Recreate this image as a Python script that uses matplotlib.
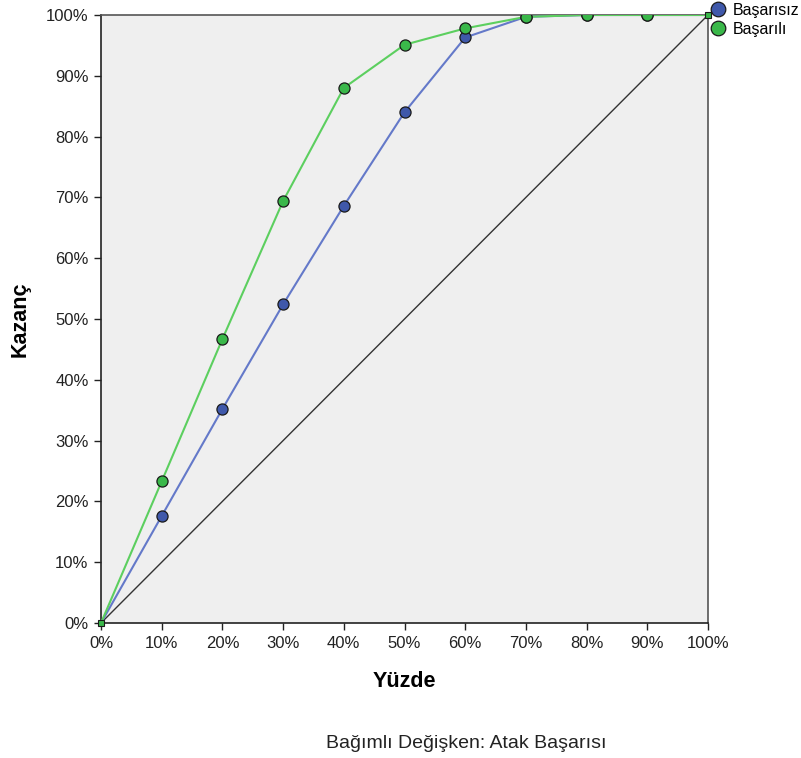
import matplotlib.pyplot as plt
from matplotlib.lines import Line2D
from matplotlib.ticker import PercentFormatter

plt.rcParams['font.family'] = ['Liberation Sans', 'DejaVu Sans']

# Gain chart data (percent of sample vs percent gain)
yuzde = [0, 10, 20, 30, 40, 50, 60, 70, 80, 90, 100]
basarisiz = [0, 17.6, 35.2, 52.4, 68.6, 84.0, 96.3, 99.7, 100, 100, 100]
basarili = [0, 23.3, 46.7, 69.4, 88.0, 95.1, 97.8, 99.7, 100, 100, 100]

blue_line = "#6479c9"
blue_fill = "#3f58aa"
green_line = "#5ccf5f"
green_fill = "#3ab84a"

fig = plt.figure(figsize=(8.01, 7.58), dpi=100)
ax = fig.add_axes([101 / 801, 135 / 758, 607 / 801, 608 / 758])
ax.set_facecolor("#efefef")

# reference diagonal
ax.plot([0, 100], [0, 100], color="#333333", lw=1.0, zorder=2)

ax.plot(yuzde, basarisiz, color=blue_line, lw=1.5, zorder=3)
ax.plot(yuzde, basarili, color=green_line, lw=1.5, zorder=3)

# circles at interior points, small squares at the ends
ax.plot(yuzde[1:-1], basarisiz[1:-1], ls="none", marker="o", ms=8,
        mfc=blue_fill, mec="#1a1a1a", mew=0.9, zorder=4)
ax.plot(yuzde[1:-1], basarili[1:-1], ls="none", marker="o", ms=8,
        mfc=green_fill, mec="#1a1a1a", mew=0.9, zorder=4)
ends = [0, -1]
ax.plot([yuzde[i] for i in ends], [basarili[i] for i in ends], ls="none",
        marker="s", ms=5, mfc=green_fill, mec="#1a1a1a", mew=0.8,
        zorder=5, clip_on=False)

ax.set_xlim(0, 100)
ax.set_ylim(0, 100)
ax.set_xticks(range(0, 101, 10))
ax.set_yticks(range(0, 101, 10))
ax.xaxis.set_major_formatter(PercentFormatter(decimals=0))
ax.yaxis.set_major_formatter(PercentFormatter(decimals=0))
ax.tick_params(direction="out", length=5, width=1, labelsize=12,
               colors="#222222", pad=4)

for side in ["left", "bottom"]:
    ax.spines[side].set_color("#222222")
    ax.spines[side].set_linewidth(1.2)
for side in ["top", "right"]:
    ax.spines[side].set_color("#555555")
    ax.spines[side].set_linewidth(1.2)

ax.set_xlabel("Yüzde", fontsize=15.5, fontweight="bold", labelpad=15)
ax.set_ylabel("Kazanç", fontsize=15.5, fontweight="bold", labelpad=11)

handles = [
    Line2D([], [], ls="none", marker="o", ms=10.5, mfc=blue_fill, mec="#1a1a1a", mew=0.9),
    Line2D([], [], ls="none", marker="o", ms=10.5, mfc=green_fill, mec="#1a1a1a", mew=0.9),
]
fig.legend(handles, ["Başarısız", "Başarılı"], loc="upper left",
           bbox_to_anchor=(711.5 / 801, 1 - 3 / 758), frameon=False,
           fontsize=11.5, handlelength=0.8, handletextpad=0.5,
           labelspacing=0.25, borderaxespad=0.0, borderpad=0.0)

fig.text(466 / 801, 1 - 743 / 758, "Bağımlı Değişken: Atak Başarısı",
         ha="center", va="center", fontsize=14, color="#222222")

fig.savefig("out.png", dpi=100, facecolor="white")
